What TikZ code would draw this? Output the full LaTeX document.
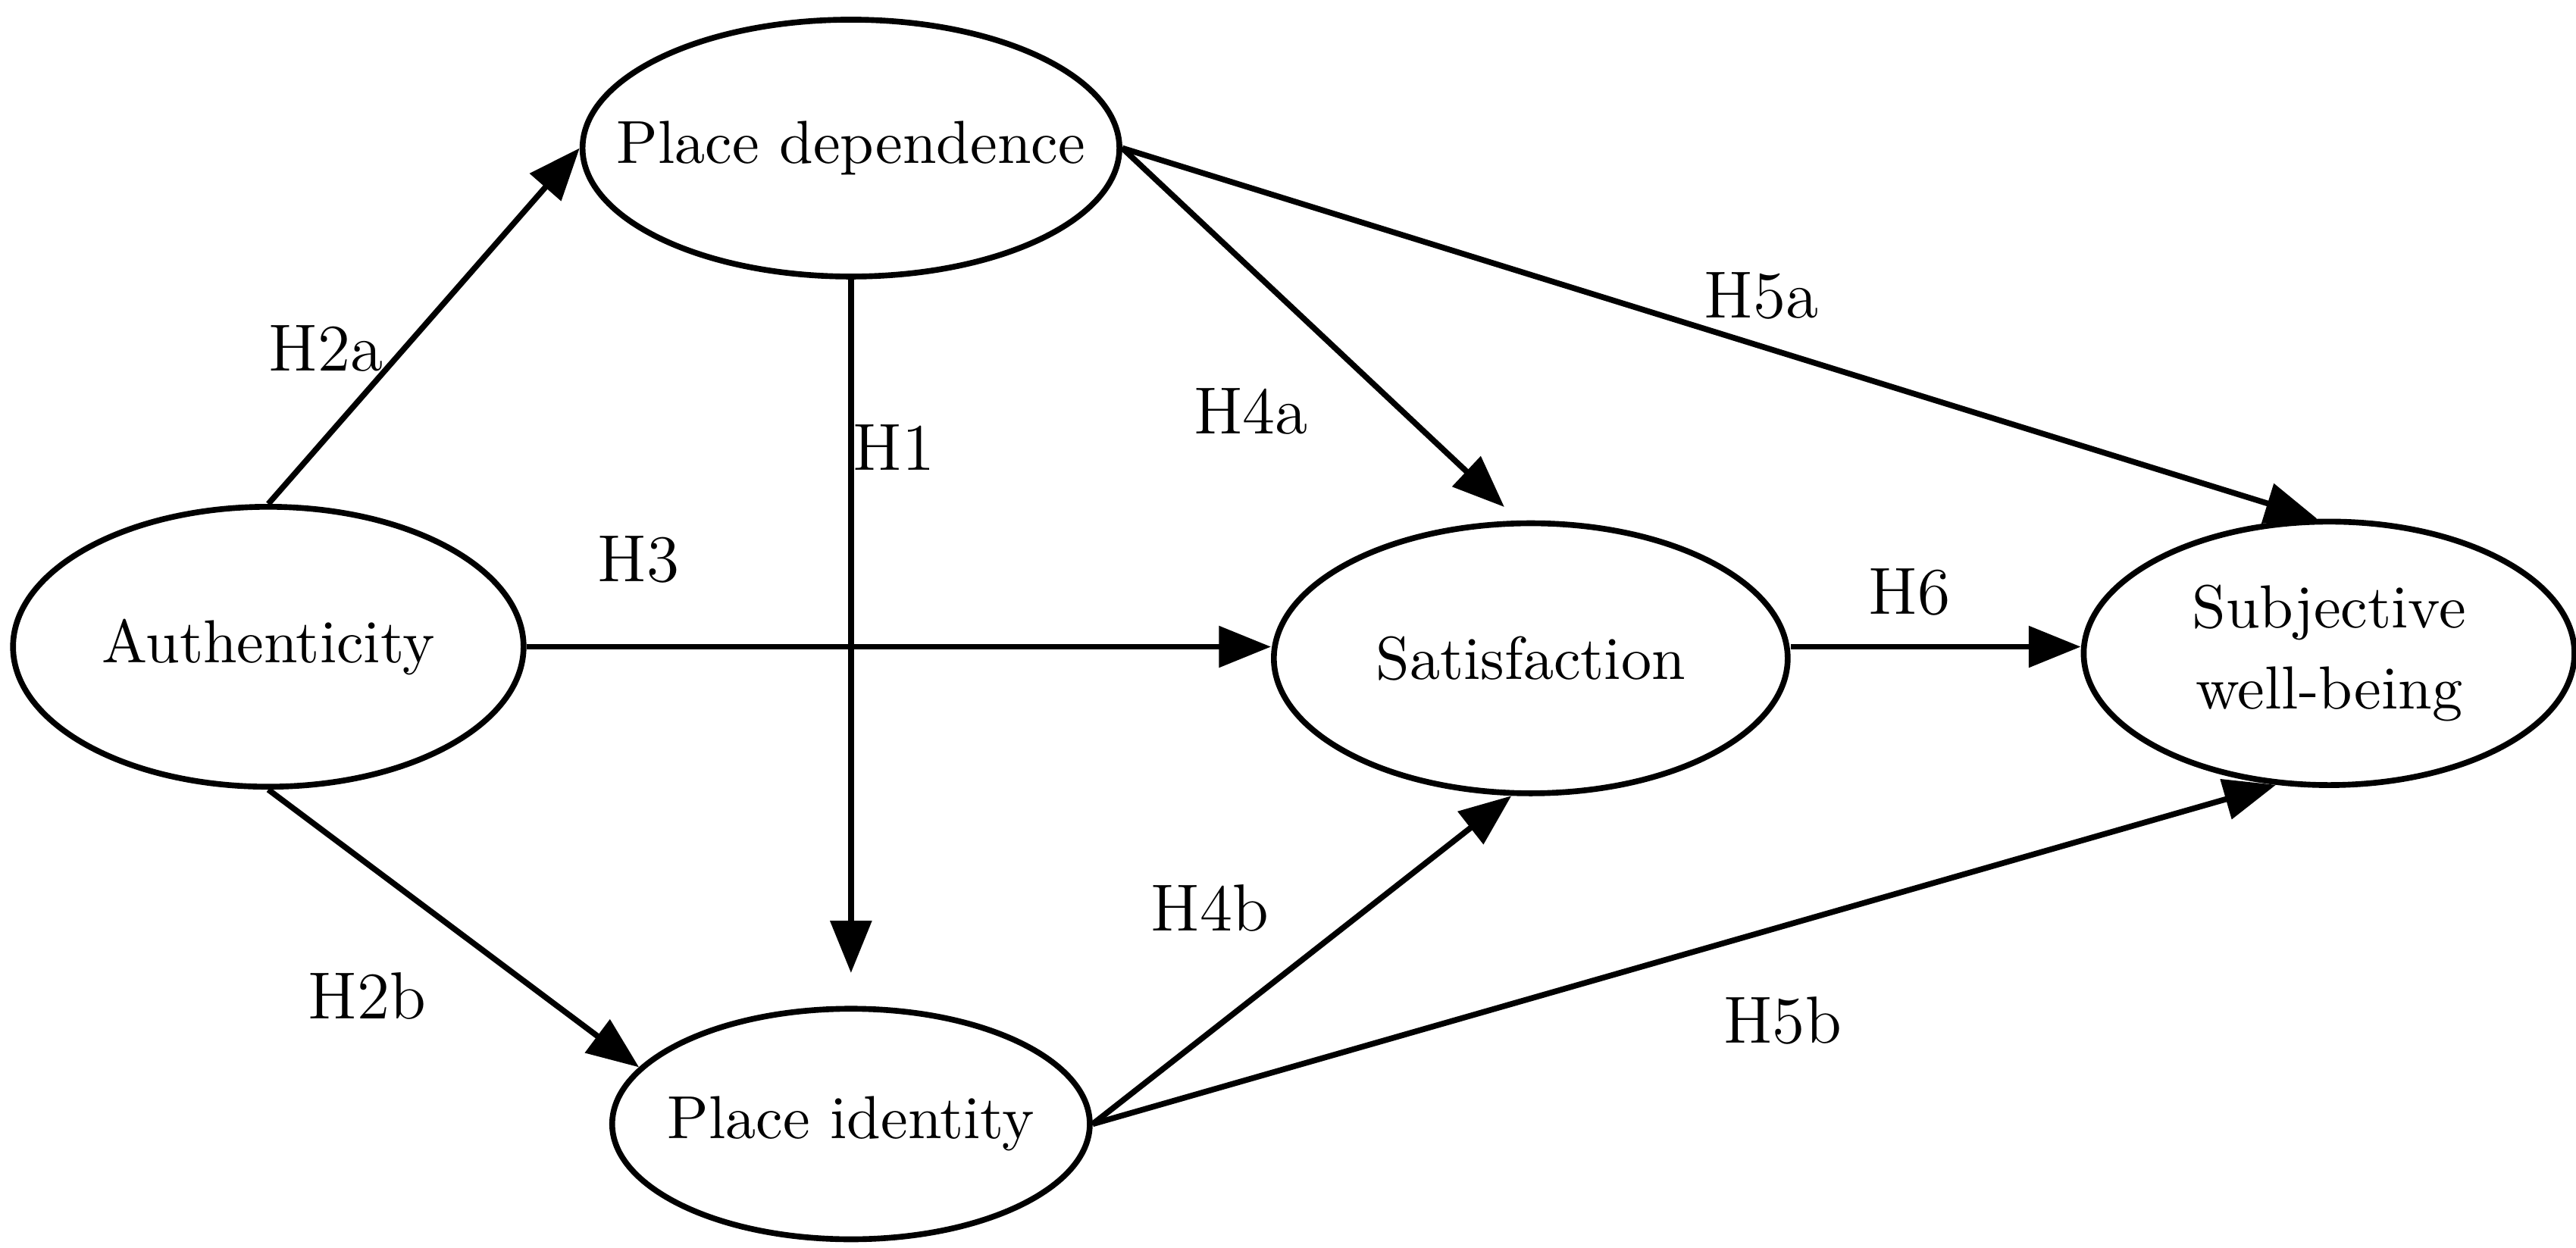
\documentclass[tikz,border=0pt]{standalone}
\usetikzlibrary{arrows.meta,shapes.geometric}
\begin{document}
\begin{tikzpicture}[x=0.01cm,y=-0.01cm,
  el/.style={draw,line width=1pt,ellipse,inner sep=0pt},
  tx/.style={font=\fontsize{10.5}{14}\selectfont,align=center},
  ar/.style={line width=1pt,-{Triangle[length=9pt,width=7pt]}},
  lb/.style={font=\fontsize{11.5}{14}\selectfont}]
\useasboundingbox (0,0) rectangle (1565,758);
\node[el,minimum width=3.26cm,minimum height=1.56cm,label={[tx]center:Place dependence}] (pd) at (517,90) {};
\node[el,minimum width=3.10cm,minimum height=1.70cm,label={[tx]center:Authenticity}] (au) at (163,393) {};
\node[el,minimum width=2.90cm,minimum height=1.40cm,label={[tx]center:Place identity}] (pi) at (517,683) {};
\node[el,minimum width=3.12cm,minimum height=1.64cm,label={[tx]center:Satisfaction}] (sa) at (930,400) {};
\node[el,minimum width=2.98cm,minimum height=1.60cm,label={[tx]center:Subjective\\well-being}] (sw) at (1415,397) {};
\draw[ar] (au.north) -- (pd.west);
\draw[ar] (au.south) -- (pi.165);
\draw[ar] (au.east) -- (au.east -| sa.west);
\draw[ar,shorten >=0.2cm] (pd.south) -- (pi.north);
\draw[ar,shorten >=0.12cm] (pd.east) -- (sa.95);
\draw[ar] (pd.east) -- (sw.95);
\draw[ar] (pi.east) -- (sa.262);
\draw[ar] (pi.east) -- (sw.248);
\draw[ar] (sa.east |- au.east) -- (sw.west |- au.east);
\node[lb] (l2a) at (198,212) {H2a};
\node[lb] (l2b) at (223,605) {H2b};
\node[lb] (l1) at (543,272) {H1};
\node[lb] (l3) at (388,340) {H3};
\node[lb] (l4a) at (760,250) {H4a};
\node[lb] (l4b) at (735,552) {H4b};
\node[lb] (l5a) at (1070,180) {H5a};
\node[lb] (l5b) at (1083,620) {H5b};
\node[lb] (l6) at (1160,360) {H6};
\end{tikzpicture}
\end{document}
